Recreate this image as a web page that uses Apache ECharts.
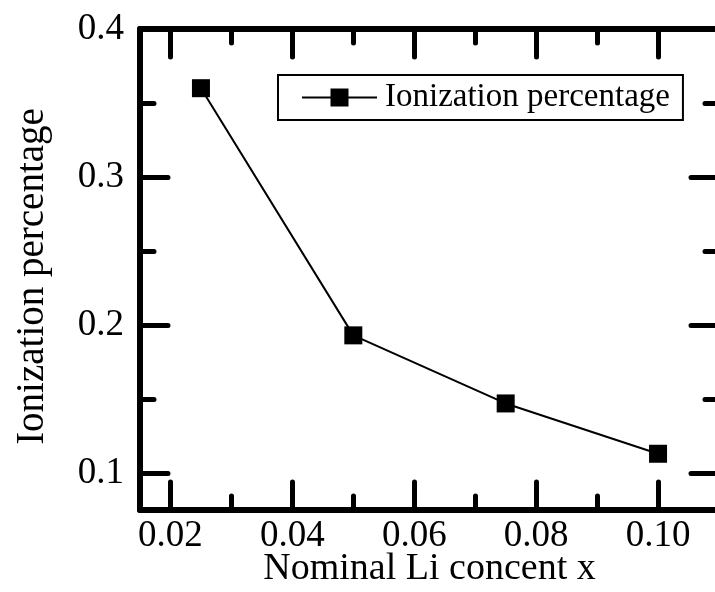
<!DOCTYPE html>
<html>
<head>
<meta charset="utf-8">
<script src="https://cdn.jsdelivr.net/npm/echarts@6/dist/echarts.min.js"></script>
<style>
html,body{margin:0;padding:0;background:#fff;}
#chart{width:715px;height:592px;}
</style>
</head>
<body>
<div id="chart"></div>
<script>
const xValues = [0.025, 0.05, 0.075, 0.1];
const yValues = [0.36, 0.193, 0.147, 0.113];
const seriesName = 'Ionization percentage';
const xMajorTicks = [0.02, 0.04, 0.06, 0.08, 0.10];
const xMinorTicks = [0.03, 0.05, 0.07, 0.09];
const yMajorTicks = [0.1, 0.2, 0.3, 0.4];
const yMinorTicks = [0.15, 0.25, 0.35];
const xTitle = 'Nominal Li concent x';
const yTitle = 'Ionization percentage';

const FONT = '"Liberation Serif", "Times New Roman", serif';
const X_MIN = 0.015, X_MAX = 0.11, Y_MIN = 0.075, Y_MAX = 0.4;

function xAx(pos, ticks, len, showLine, showLabel, extra) {
  return Object.assign({
    type: 'value', position: pos, min: X_MIN, max: X_MAX,
    axisLine: { show: showLine, onZero: false, lineStyle: { color: '#000', width: 6 } },
    axisTick: { show: true, inside: true, length: len, customValues: ticks,
      lineStyle: { color: '#000', width: 5, cap: 'round' } },
    axisLabel: { show: showLabel, customValues: ticks, margin: 8,
      formatter: v => v.toFixed(2), color: '#000', fontFamily: FONT, fontSize: 37 },
    splitLine: { show: false }
  }, extra || {});
}
function yAx(pos, ticks, len, showLine, showLabel, extra) {
  return Object.assign({
    type: 'value', position: pos, min: Y_MIN, max: Y_MAX,
    axisLine: { show: showLine, onZero: false, lineStyle: { color: '#000', width: 6 } },
    axisTick: { show: true, inside: true, length: len, customValues: ticks,
      lineStyle: { color: '#000', width: 5, cap: 'round' } },
    axisLabel: { show: showLabel, customValues: ticks, margin: 16,
      formatter: v => v.toFixed(1), color: '#000', fontFamily: FONT, fontSize: 37 },
    splitLine: { show: false }
  }, extra || {});
}

const chart = echarts.init(document.getElementById('chart'), null, { renderer: 'canvas' });
chart.setOption({
  backgroundColor: '#fff',
  animation: false,
  grid: { left: 140, top: 29, width: 579, height: 481, containLabel: false, outerBoundsMode: 'none' },
  legend: {
    left: 278, top: 75,
    data: [seriesName],
    itemWidth: 75, itemHeight: 22.5,
    padding: [6, 13, 6, 23],
    borderColor: '#000', borderWidth: 2, borderRadius: 0,
    textStyle: { color: '#000', fontFamily: FONT, fontSize: 33, padding: [0, 0, 0, 3] }
  },
  xAxis: [
    xAx('bottom', xMajorTicks, 28, true, true, {
      name: xTitle, nameLocation: 'middle', nameGap: 40, nameMoveOverlap: false,
      nameTextStyle: { color: '#000', fontFamily: FONT, fontSize: 38 }
    }),
    xAx('bottom', xMinorTicks, 14, false, false),
    xAx('top', xMajorTicks, 28, true, false),
    xAx('top', xMinorTicks, 14, false, false)
  ],
  yAxis: [
    yAx('left', yMajorTicks, 28, true, true, {
      name: yTitle, nameLocation: 'middle', nameGap: 88, nameMoveOverlap: false,
      nameTextStyle: { color: '#000', fontFamily: FONT, fontSize: 39, padding: [0, 14, 0, 0] }
    }),
    yAx('left', yMinorTicks, 14, false, false),
    yAx('right', yMajorTicks, 28, true, false),
    yAx('right', yMinorTicks, 14, false, false)
  ],
  series: [{
    name: seriesName,
    type: 'line',
    xAxisIndex: 0, yAxisIndex: 0,
    data: xValues.map((x, i) => [x, yValues[i]]),
    symbol: 'rect', symbolSize: 18,
    itemStyle: { color: '#000' },
    lineStyle: { color: '#000', width: 2 },
    clip: false
  }]
});
</script>
</body>
</html>
